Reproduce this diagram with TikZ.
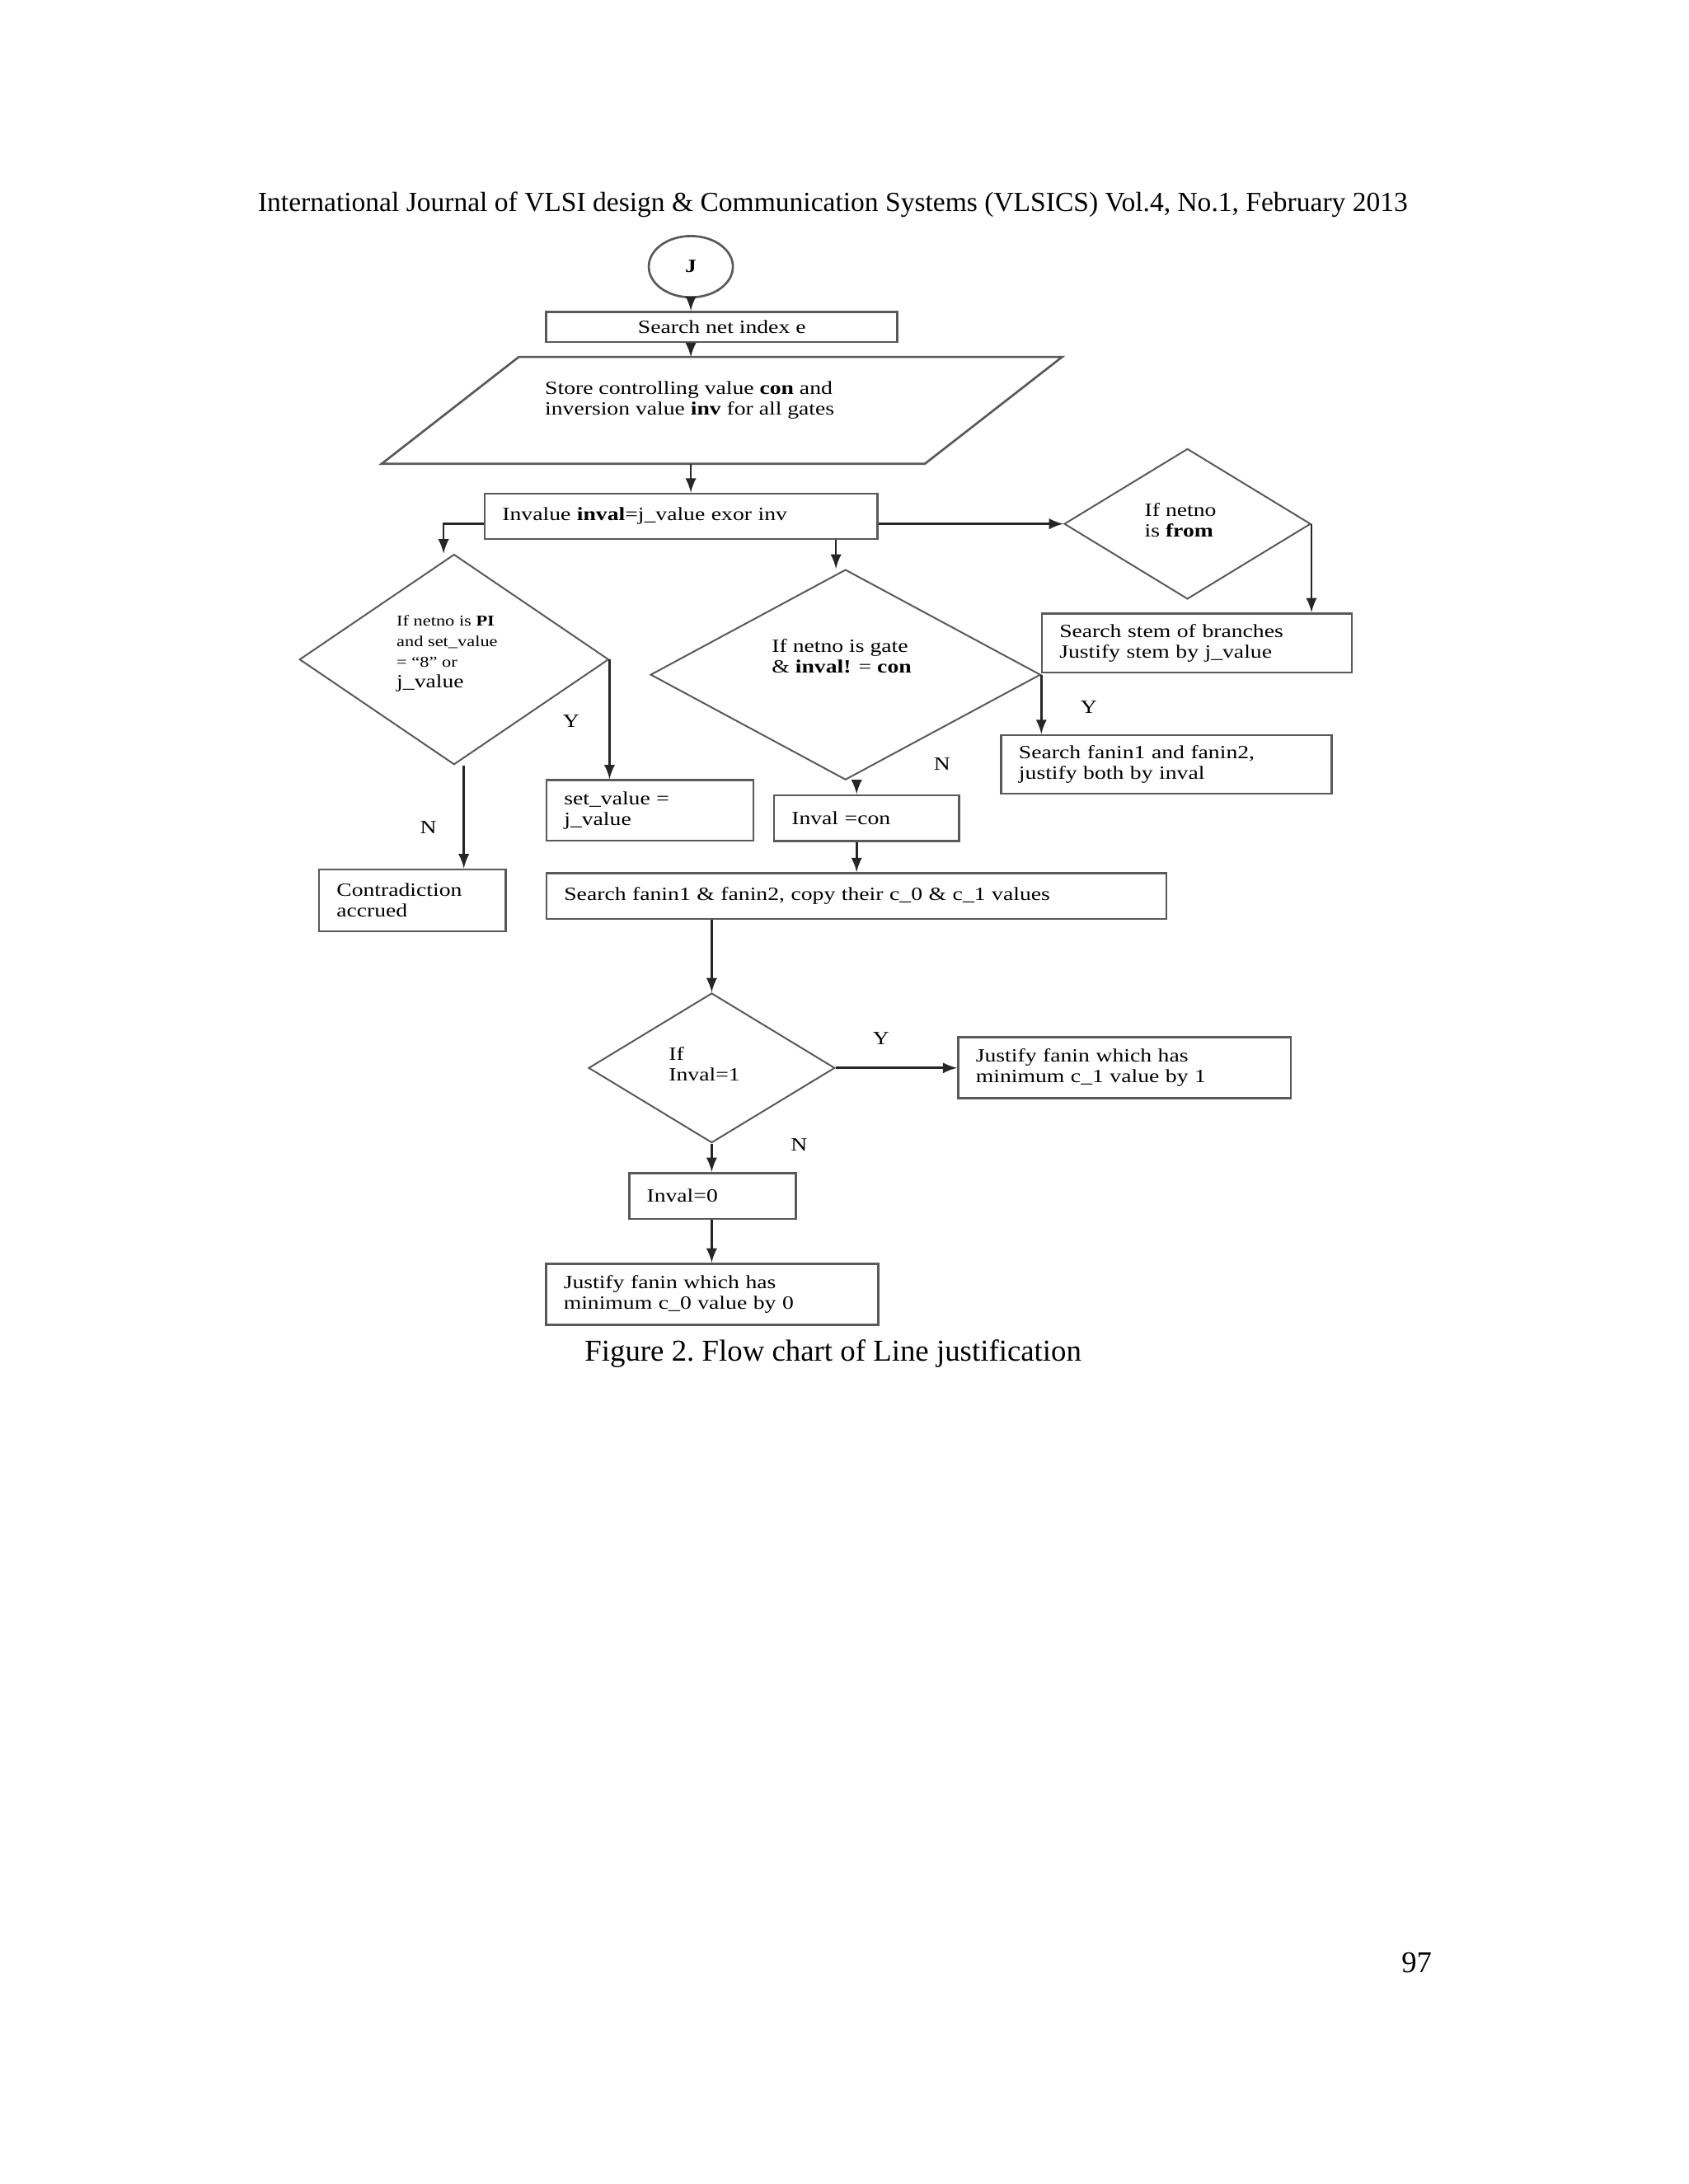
\documentclass[tikz,border=0pt]{standalone}
\usepackage{fontspec}
\setmainfont{Liberation Serif}
\newfontfamily\chartfont[FakeStretch=1.22]{Liberation Serif}
\newcommand{\dtxt}{\chartfont\fontsize{6.8}{7.5}\selectfont}
\newcommand{\dsmall}{\chartfont\fontsize{5.5}{6}\selectfont}
\usepackage{tikz}
\usetikzlibrary{arrows}
\usetikzlibrary{shapes.geometric, positioning, calc}

\begin{document}
\begin{tikzpicture}[>=latex, line width=0.8pt,
    box/.style={draw=black!65, rectangle, inner xsep=0.225cm, inner ysep=0pt, align=left, font=\dtxt},
    dec/.style={draw=black!65, diamond, line width=0.6pt, inner sep=0pt},
    dtext/.style={font=\dtxt, align=left, inner sep=0pt, anchor=west},
    arr/.style={->, draw=black!85},
    yn/.style={font=\dtxt, inner sep=0pt}]
      \useasboundingbox (0,0) rectangle (21.59,-27.936);

      \node[anchor=base west, inner sep=0pt, font=\fontsize{10.06}{12}\selectfont] (head) at (3.286,-2.706) {International Journal of VLSI design \& Communication Systems (VLSICS) Vol.4, No.1, February 2013};

      \node[draw=black!65, ellipse, minimum width=1.076cm, minimum height=0.784cm, inner sep=0pt, font=\dtxt\bfseries] (J) at (8.835,-3.411) {J};
      \node[box, align=center, minimum width=4.491cm, minimum height=0.387cm] (search) at (9.232,-4.182) {Search net index e};

      \coordinate (ptl) at (6.634,-4.566);
      \coordinate (ptr) at (13.583,-4.566);
      \coordinate (pbr) at (11.828,-5.932);
      \coordinate (pbl) at (4.881,-5.932);
      \draw[draw=black!65] (ptl) -- (ptr) -- (pbr) -- (pbl) -- cycle;
      \node[dtext] (store) at (6.956,-5.118) {Store controlling value \textbf{con} and\\ inversion value \textbf{inv} for all gates};

      \node[box, text width=4.573cm, minimum height=0.579cm] (inv) at (8.711,-6.604) {Invalue \textbf{inval}=j\_value exor inv};

      \node[dec, minimum width=3.955cm, minimum height=2.690cm] (ldec) at (5.807,-8.435) {};
      \node[dtext] (ldect) at (5.059,-8.355) {\dsmall If netno is \textbf{PI}\\ \dsmall and set\_value\\ \dsmall = “8” or\\ \dtxt j\_value};

      \node[dec, minimum width=4.988cm, minimum height=2.690cm] (mdec) at (10.813,-8.630) {};
      \node[dtext] (mdect) at (9.858,-8.398) {If netno is gate\\ \& \textbf{inval!} = \textbf{con}};

      \node[dec, minimum width=3.152cm, minimum height=1.924cm] (rdec) at (15.186,-6.701) {};
      \node[dtext] (rdect) at (14.625,-6.650) {If netno\\ is \textbf{from}};

      \node[box, text width=3.515cm, minimum height=0.755cm] (stem) at (15.307,-8.224) {Search stem of branches\\ Justify stem by j\_value};
      \node[box, text width=3.775cm, minimum height=0.750cm] (fanin) at (14.917,-9.778) {Search fanin1 and fanin2,\\ justify both by inval};
      \node[box, text width=2.197cm, minimum height=0.773cm] (setv) at (8.313,-10.366) {set\_value =\\ j\_value};
      \node[box, text width=1.917cm, minimum height=0.588cm] (icon) at (11.082,-10.465) {Inval =con};
      \node[box, text width=1.937cm, minimum height=0.791cm] (contra) at (5.273,-11.516) {Contradiction\\ accrued};
      \node[box, text width=7.477cm, minimum height=0.584cm] (big) at (10.953,-11.461) {Search fanin1 \& fanin2, copy their c\_0 \& c\_1 values};

      \node[dec, minimum width=3.150cm, minimum height=1.915cm] (dec1) at (9.102,-13.660) {};
      \node[dtext] (dec1t) at (8.540,-13.608) {If\\ Inval=1};
      \node[box, text width=3.804cm, minimum height=0.778cm] (c1) at (14.382,-13.655) {Justify fanin which has\\ minimum c\_1 value by 1};
      \node[box, text width=1.684cm, minimum height=0.586cm] (zero) at (9.113,-15.297) {Inval=0};
      \node[box, text width=3.800cm, minimum height=0.784cm] (fin) at (9.108,-16.556) {Justify fanin which has\\ minimum c\_0 value by 0};

      \node[yn] (y1) at (7.303,-9.227) {Y};
      \node[yn] (n1) at (5.478,-10.581) {N};
      \node[yn] (y2) at (13.924,-9.046) {Y};
      \node[yn] (n2) at (12.049,-9.769) {N};
      \node[yn] (y3) at (11.269,-13.281) {Y};
      \node[yn] (n3) at (10.218,-14.646) {N};

      \draw[arr] (J.south) -- (J.south |- search.north);
      \draw[arr] (J.south |- search.south) -- (J.south |- ptl);
      \draw[arr] (J.south |- pbl) -- (J.south |- inv.north);
      \draw[arr] ([yshift=-0.097cm]inv.west) -| ([xshift=-0.134cm]ldec.north);
      \draw[arr] ([xshift=-0.122cm]mdec.north |- inv.south) -- ([xshift=-0.122cm]mdec.north);
      \draw[arr] (inv.east |- rdec.west) -- (rdec.west);
      \draw[arr] (rdec.east) -- (rdec.east |- stem.north);
      \draw[arr] (ldec.east) -- (ldec.east |- setv.north);
      \draw[arr] ([xshift=0.125cm]ldec.south) -- ([xshift=0.125cm]ldec.south |- contra.north);
      \draw[arr] (mdec.east) -- (mdec.east |- fanin.north);
      \draw[arr] ([xshift=0.142cm]mdec.south) -- ([xshift=0.142cm]mdec.south |- icon.north);
      \draw[arr] ([xshift=0.142cm]mdec.south |- icon.south) -- ([xshift=0.142cm]mdec.south |- big.north);
      \draw[arr] (dec1.north |- big.south) -- (dec1.north);
      \draw[arr] (dec1.east) -- (c1.west |- dec1.east);
      \draw[arr] (dec1.south) -- (dec1.south |- zero.north);
      \draw[arr] (dec1.south |- zero.south) -- (dec1.south |- fin.north);

      \node[anchor=base west, inner sep=0pt, font=\fontsize{11.05}{13}\selectfont] (cap) at (7.464,-17.412) {Figure 2.\ Flow chart of Line justification};
      \node[anchor=base west, inner sep=0pt, font=\fontsize{11}{13}\selectfont] (pnum) at (17.911,-25.227) {97};
\end{tikzpicture}
\end{document}
